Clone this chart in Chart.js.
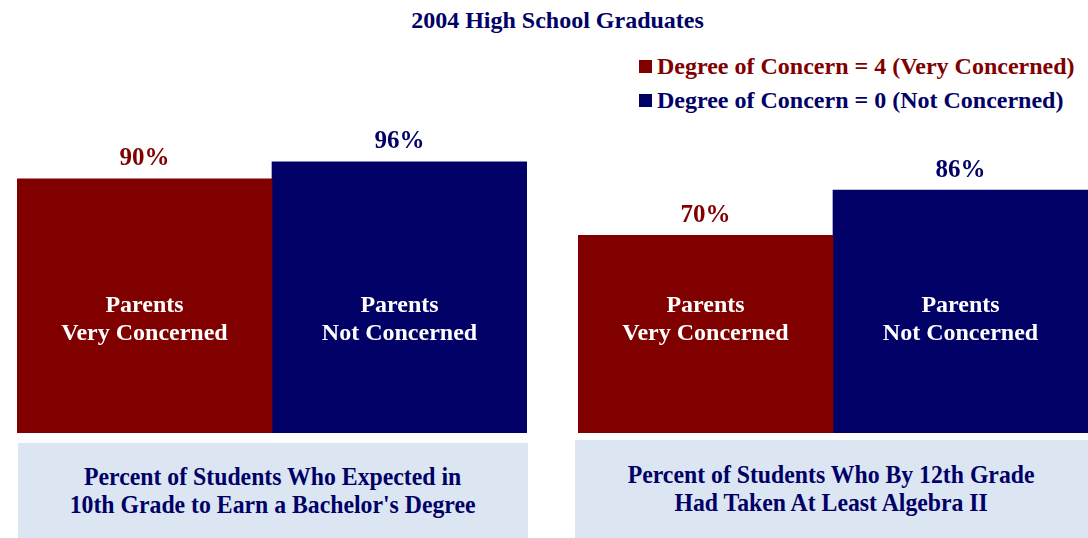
<!DOCTYPE html>
<html>
<head>
<meta charset="utf-8">
<script src="https://cdn.jsdelivr.net/npm/chart.js@4"></script>
<style>
    body { margin: 0; width: 1088px; height: 538px; background: #fff; position: relative; overflow: hidden;
           font-family: "Liberation Serif", "Times New Roman", serif; font-weight: bold; }
    #title { position: absolute; left: 0; width: 1115px; top: 6px; line-height: 28px; text-align: center; font-size: 24px; color: #000066; }
    .legend { position: absolute; left: 639px; font-size: 24px; line-height: 28px; white-space: nowrap; }
    .legend span { display: inline-block; width: 13px; height: 13px; margin-right: 5px; vertical-align: 1px; }
    .chartBox { position: absolute; top: 110px; height: 323px; }
    .caption { position: absolute; background: #dce6f2; color: #000066; font-size: 25px; text-align: center;
               display: flex; align-items: center; justify-content: center; line-height: 28px; }
    .caption div { transform: scaleX(0.95); white-space: nowrap; }
</style>
</head>
<body>
<div id="title">2004 High School Graduates</div>
<div class="legend" style="top:52px;color:#800000"><span style="background:#800000"></span>Degree of Concern = 4 (Very Concerned)</div>
<div class="legend" style="top:86px;color:#000066"><span style="background:#000066"></span>Degree of Concern = 0 (Not Concerned)</div>

<div class="chartBox" style="left:17px;width:510px"><canvas id="chartLeft"></canvas></div>
<div class="chartBox" style="left:578px;width:510px"><canvas id="chartRight"></canvas></div>

<div class="caption" style="left:18px;top:443px;width:510px;height:95px"><div>Percent of Students Who Expected in<br>10th Grade to Earn a Bachelor's Degree</div></div>
<div class="caption" style="left:575px;top:440px;width:513px;height:98px"><div>Percent of Students Who By 12th Grade<br>Had Taken At Least Algebra II</div></div>

<script>
// Values (percent)
const seriesNames = ['Degree of Concern = 4 (Very Concerned)', 'Degree of Concern = 0 (Not Concerned)'];
const veryConcerned = [90, 70];
const notConcerned = [96, 86];
const barLabels = [['Parents', 'Very Concerned'], ['Parents', 'Not Concerned']];
const colors = ['#800000', '#000066'];

// Draws the % above each bar and the white text inside it
const barTextPlugin = {
    id: 'barText',
    afterDatasetsDraw(chart) {
        const ctx = chart.ctx;
        ctx.save();
        ctx.textAlign = 'center';
        ctx.textBaseline = 'middle';
        chart.data.datasets.forEach((ds, i) => {
            const bar = chart.getDatasetMeta(i).data[0];
            ctx.font = 'bold 25px "Liberation Serif", serif';
            ctx.fillStyle = colors[i];
            ctx.fillText(ds.data[0] + '%', bar.x, bar.y - 20);
            ctx.font = 'bold 24px "Liberation Serif", serif';
            ctx.fillStyle = '#ffffff';
            const bottom = chart.chartArea.bottom;
            ctx.fillText(barLabels[i][0], bar.x, bottom - 127);
            ctx.fillText(barLabels[i][1], bar.x, bottom - 99);
        });
        ctx.restore();
    }
};

const makeChart = (id, idx) => {
    const ctx = document.getElementById(id).getContext('2d');
    return new Chart(ctx, {
        type: 'bar',
        data: {
            labels: [''],
            datasets: [
                { label: seriesNames[0], data: [veryConcerned[idx]], backgroundColor: colors[0] },
                { label: seriesNames[1], data: [notConcerned[idx]], backgroundColor: colors[1] },
            ],
        },
        options: {
            responsive: true,
            maintainAspectRatio: false,
            animation: false,
            layout: { padding: { top: 40.5, left: 0, right: 0, bottom: 0 } },
            datasets: { bar: { categoryPercentage: 1, barPercentage: 1 } },
            plugins: { legend: { display: false }, tooltip: { enabled: false } },
            scales: {
                x: { display: false },
                y: { display: false, min: 0, max: 100 },
            },
        },
        plugins: [barTextPlugin],
    });
};

makeChart('chartLeft', 0);
makeChart('chartRight', 1);
</script>
</body>
</html>
